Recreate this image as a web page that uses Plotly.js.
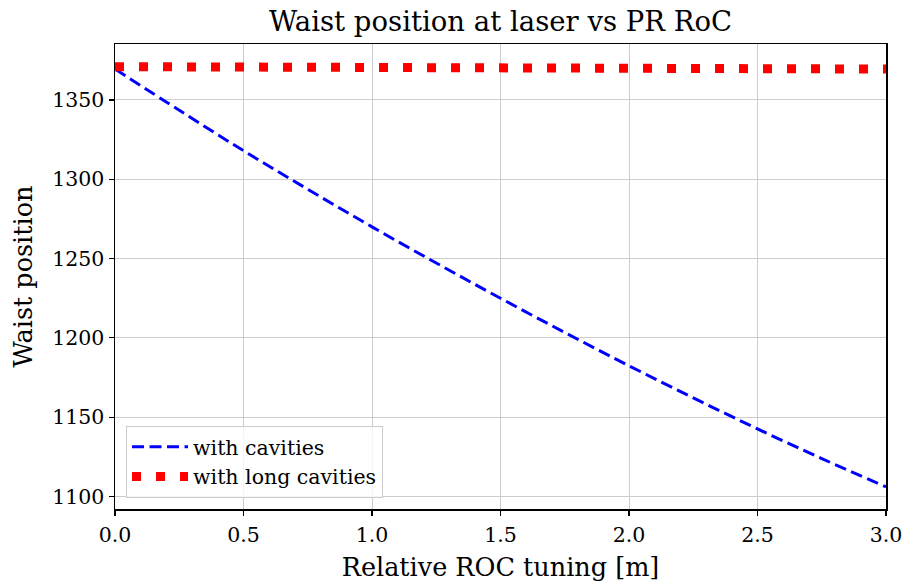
<!DOCTYPE html>
<html>
<head>
<meta charset="utf-8">
<script src="https://cdn.plot.ly/plotly-3.0.1.min.js"></script>
<style>html,body{margin:0;padding:0;background:#fff;}#plot{width:909px;height:585px;}</style>
</head>
<body>
<div id="plot"></div>
<script>
const xCav = [0, 0.25, 0.5, 0.75, 1.0, 1.25, 1.5, 1.75, 2.0, 2.25, 2.5, 2.75, 3.0];
const yCav = [1369.5, 1343.5, 1318.0, 1293.7, 1270.0, 1247.2, 1225.0, 1203.4, 1182.4, 1162.2, 1142.6, 1123.9, 1106.0];
const xLong = [0, 0.5, 1.0, 1.5, 2.0, 2.5, 3.0];
const yLong = [1371.0, 1370.8, 1370.5, 1370.3, 1370.0, 1369.8, 1369.5];
const seriesNames = ["with cavities", "with long cavities"];
const titleText = "Waist position at laser vs PR RoC";
const xLabel = "Relative ROC tuning [m]";
const yLabel = "Waist position";

const font = "DejaVu Serif";
const traces = [
  {x: xCav, y: yCav, name: seriesNames[0], mode: "lines", line: {color: "#0000ff", width: 3, dash: "12px,5.5px", shape: "spline"}},
  {x: xLong, y: yLong, name: seriesNames[1], mode: "lines", line: {color: "#ff0000", width: 9, dash: "9px,15px"}}
];
const axisCommon = {
  showline: true, linecolor: "#000", linewidth: 1.5, mirror: true,
  ticks: "outside", ticklen: 5, tickwidth: 1.2, tickcolor: "#000",
  showgrid: true, gridcolor: "#cccccc", gridwidth: 1, zeroline: false,
  tickfont: {family: font, size: 20.5, color: "#000"}
};
const layout = {
  width: 909, height: 585,
  margin: {l: 115, r: 23, t: 44, b: 76},
  paper_bgcolor: "#fff", plot_bgcolor: "#fff",
  title: {text: titleText, font: {family: font, size: 27.5, color: "#000"}, x: 0.5, xref: "paper", y: 1, yref: "paper", yanchor: "bottom", pad: {b: 13}},
  xaxis: Object.assign({}, axisCommon, {range: [0, 3], dtick: 0.5, tick0: 0, tickformat: ".1f", ticklabelstandoff: 2,
    title: {text: xLabel, font: {family: font, size: 25.5, color: "#000"}, standoff: 12}}),
  yaxis: Object.assign({}, axisCommon, {range: [1092.1, 1385.3], dtick: 50, tick0: 1100,
    title: {text: yLabel, font: {family: font, size: 25.5, color: "#000"}, standoff: 12}}),
  showlegend: true,
  legend: {x: 0.0143, y: 0.0237, xanchor: "left", yanchor: "bottom", bgcolor: "rgba(255,255,255,0.8)",
    bordercolor: "#cccccc", borderwidth: 1, itemwidth: 56, font: {family: font, size: 20.5, color: "#000"}}
};
Plotly.newPlot("plot", traces, layout, {displayModeBar: false, staticPlot: true});
</script>
</body>
</html>
